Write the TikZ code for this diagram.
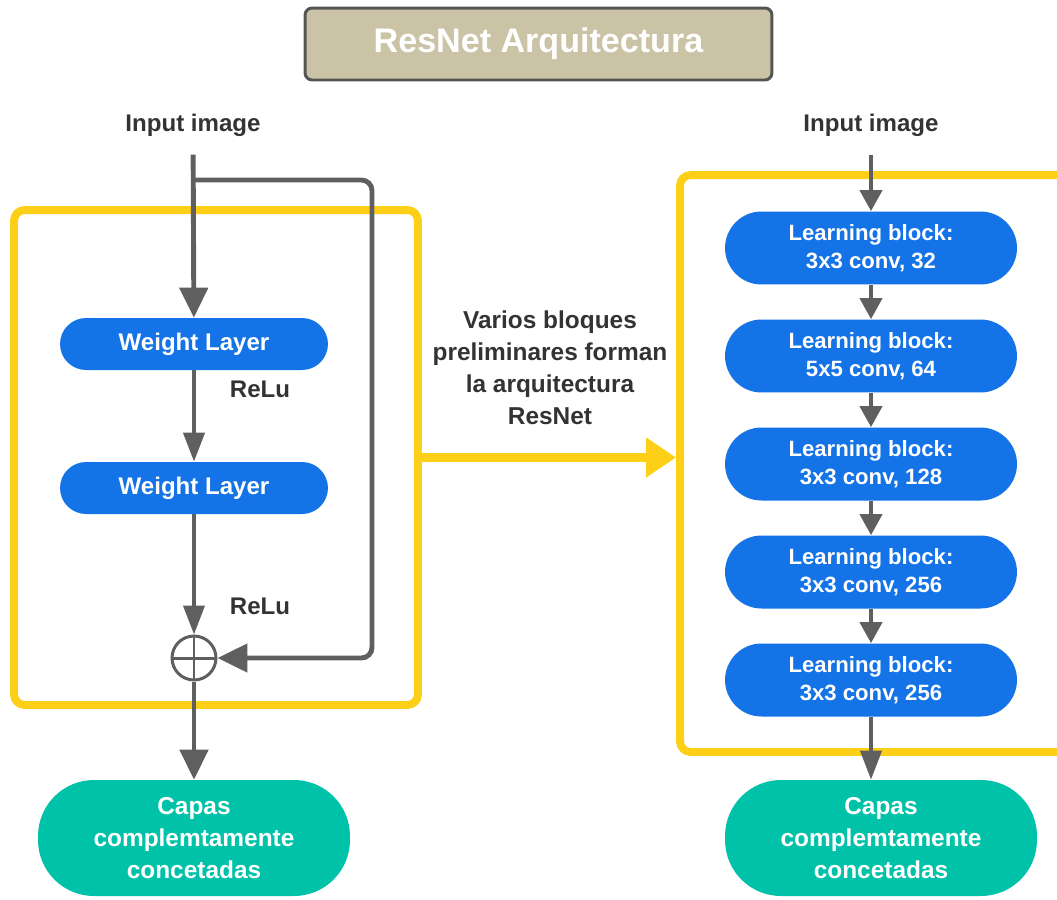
\documentclass[tikz,border=0pt]{standalone}
\usepackage{fontspec}
\setmainfont{Liberation Sans}
\usetikzlibrary{arrows.meta,positioning}
\definecolor{frameyellow}{HTML}{FDD017}
\definecolor{layerblue}{HTML}{1473E6}
\definecolor{densegreen}{HTML}{00C2A8}
\definecolor{linegray}{HTML}{5F5F5F}
\definecolor{titlesand}{HTML}{CBC3A5}
\definecolor{titleedge}{HTML}{555555}
\definecolor{textgray}{HTML}{333333}

\begin{document}
\begin{tikzpicture}
[x=0.02cm, y=-0.02cm,
titlebox/.style={draw=titleedge, line width=1.7pt, fill=titlesand, rounded corners=4pt,
  minimum width=9.34cm, minimum height=1.44cm, text=white,
  font=\fontsize{19.4}{23}\selectfont\bfseries},
lbl/.style={text=textgray, inner sep=0pt, align=center,
  font=\fontsize{13.7}{18}\selectfont\bfseries},
weight/.style={fill=layerblue, text=white, rounded corners=0.52cm, minimum width=5.36cm,
  minimum height=1.04cm, inner sep=0pt, font=\fontsize{13.7}{18}\selectfont\bfseries},
learn/.style={fill=layerblue, text=white, rounded corners=0.73cm, minimum width=5.84cm,
  minimum height=1.46cm, inner sep=0pt, align=center,
  font=\fontsize{12.6}{16}\selectfont\bfseries},
dense/.style={fill=densegreen, text=white, rounded corners=1.12cm, minimum width=6.24cm,
  minimum height=2.32cm, inner sep=0pt, align=center,
  font=\fontsize{13.9}{18.2}\selectfont\bfseries},
yframe/.style={draw=frameyellow, line width=4.5pt, rounded corners=6pt, inner sep=0pt},
sumnode/.style={circle, draw=linegray, line width=1.7pt, minimum size=0.88cm, inner sep=0pt,
  path picture={\draw[linegray, line width=1.7pt]
    (path picture bounding box.north) -- (path picture bounding box.south)
    (path picture bounding box.west) -- (path picture bounding box.east);}},
flow/.style={draw=linegray, line width=2.8pt, -{Triangle[length=0.6cm,width=0.56cm]}},
thinflow/.style={draw=linegray, line width=2.3pt, -{Triangle[length=0.58cm,width=0.42cm]}},
stepflow/.style={draw=linegray, line width=2.3pt, -{Triangle[length=0.42cm,width=0.44cm]}},
bigflow/.style={draw=frameyellow, line width=5.6pt, -{Triangle[length=0.6cm,width=0.76cm]}}]
  \useasboundingbox (0,0) rectangle (1057,899);
  % yellow frames first, the lines go over them
  \node[yframe, minimum width=8.08cm, minimum height=9.9cm] (lframe) at (216,457.5) {};
  \node[yframe, minimum width=7.8cm, minimum height=11.54cm] (rframe) at (875,463.5) {};
  \node[titlebox] (title) at (538.5,44) {ResNet Arquitectura};
  % left: one residual block
  \node[lbl] (in1) at (193,125) {Input image};
  \node[weight] (wl1) at (194,344) {Weight Layer};
  \node[weight] (wl2) at (194,488) {Weight Layer};
  \node[sumnode] (sum) at (194,658) {};
  \node[lbl] (relu1) at (260,389) {ReLu};
  \node[lbl] (relu2) at (260,606) {ReLu};
  \node[dense] (fc1) at (194,838) {Capas\\complemtamente\\concetadas};
  \coordinate (split) at (194,180);
  \coordinate (skipturn) at (372,180);
  \draw[flow, shorten <=0.36cm] (in1) -- (wl1);
  \draw[flow, rounded corners=6pt] (split) -- (skipturn) |- (sum.east);
  \draw[thinflow] (wl1) -- (wl2);
  \draw[thinflow] (wl2) -- (sum);
  \draw[flow] (sum) -- (fc1);
  % middle
  \node[lbl, font=\fontsize{13.9}{18.2}\selectfont\bfseries] (note) at (550,368)
    {Varios bloques\\preliminares forman\\la arquitectura\\ResNet};
  \draw[bigflow] (lframe.east) -- (lframe.east -| rframe.west);
  % right: stack of learning blocks
  \node[lbl] (in2) at (871,125) {Input image};
  \node[learn] (lb1) at (871,248) {Learning block:\\3x3 conv, 32};
  \node[learn] (lb2) at (871,356) {Learning block:\\5x5 conv, 64};
  \node[learn] (lb3) at (871,464) {Learning block:\\3x3 conv, 128};
  \node[learn] (lb4) at (871,572) {Learning block:\\3x3 conv, 256};
  \node[learn] (lb5) at (871,680) {Learning block:\\3x3 conv, 256};
  \node[dense] (fc2) at (881,838) {Capas\\complemtamente\\concetadas};
  \draw[stepflow, shorten <=0.36cm] (in2) -- (lb1);
  \foreach \a/\b in {lb1/lb2, lb2/lb3, lb3/lb4, lb4/lb5}
    \draw[stepflow] (\a) -- (\b);
  \draw[thinflow] (lb5.south) -- (lb5.south |- fc2.north);
\end{tikzpicture}
\end{document}
